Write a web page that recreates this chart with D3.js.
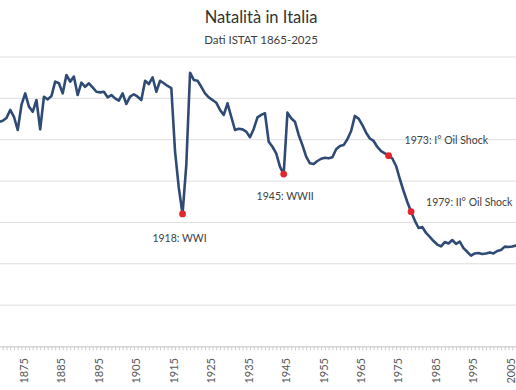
<!DOCTYPE html>
<html>
<head>
<meta charset="utf-8">
<script src="https://cdn.jsdelivr.net/npm/d3@7"></script>
<style>
  html, body { margin: 0; padding: 0; background: #fff; }
  svg { display: block; }
</style>
</head>
<body>
<svg id="chart" width="516" height="390"></svg>
<script>
// Data (births, thousands; approximate)
const years = [
  1869,1870,1871,1872,1873,1874,1875,1876,1877,1878,1879,
  1880,1881,1882,1883,1884,1885,1886,1887,1888,1889,
  1890,1891,1892,1893,1894,1895,1896,1897,1898,1899,
  1900,1901,1902,1903,1904,1905,1906,1907,1908,1909,
  1910,1911,1912,1913,1914,1915,1916,1917,1918,1919,
  1920,1921,1922,1923,1924,1925,1926,1927,1928,1929,
  1930,1931,1932,1933,1934,1935,1936,1937,1938,1939,
  1940,1941,1942,1943,1944,1945,1946,1947,1948,1949,
  1950,1951,1952,1953,1954,1955,1956,1957,1958,1959,
  1960,1961,1962,1963,1964,1965,1966,1967,1968,1969,
  1970,1971,1972,1973,1974,1975,1976,1977,1978,1979,
  1980,1981,1982,1983,1984,1985,1986,1987,1988,1989,
  1990,1991,1992,1993,1994,1995,1996,1997,1998,1999,
  2000,2001,2002,2003,2004,2005,2006,2007,2008
];
const births = [
  1086,1092,1105,1144,1111,1047,1168,1224,1160,1135,1192,
  1050,1208,1195,1211,1281,1273,1224,1313,1281,1305,
  1216,1276,1256,1273,1253,1232,1229,1232,1205,1216,
  1200,1189,1224,1173,1208,1220,1208,1192,1285,1269,
  1302,1232,1285,1273,1260,1250,942,767,641,878,
  1324,1289,1285,1256,1224,1205,1192,1179,1144,1120,
  1176,1111,1047,1053,1050,1039,1012,1052,1108,1120,
  1128,990,966,934,870,834,1131,1104,1087,1023,
  974,918,886,883,897,908,913,910,915,954,
  970,974,1002,1042,1115,1102,1071,1034,1006,994,
  965,945,934,923,909,873,810,752,699,652,
  609,573,578,549,530,510,493,484,505,498,
  515,496,507,476,458,439,450,452,447,450,
  455,450,462,467,483,481,484,488,491
];
const tickYears = [1875,1885,1895,1905,1915,1925,1935,1945,1955,1965,1975,1985,1995,2005];
const yTicks = [0,200,400,600,800,1000,1200,1400];
const eventYears = [1918,1945,1973,1979];
const eventLabels = ["1918: WWI","1945: WWII","1973: I° Oil Shock","1979: II° Oil Shock"];
const titleText = "Natalità in Italia";
const subtitleText = "Dati ISTAT 1865-2025";

const data = years.map((y, i) => ({year: y, value: births[i]}));
const byYear = new Map(data.map(d => [d.year, d.value]));

const svg = d3.select("#chart");
const W = 516, H = 390;
svg.append("rect").attr("width", W).attr("height", H).attr("fill", "#fff");

const x = d3.scaleLinear().domain([1865, 2025]).range([-16, 583.4]);
const y = d3.scaleLinear().domain([0, 1400]).range([346.5, 57]);

const font = "Lato, 'Open Sans', sans-serif";

// gridlines
svg.append("g").selectAll("line").data(yTicks).join("line")
  .attr("x1", 0).attr("x2", W)
  .attr("y1", d => y(d)).attr("y2", d => y(d))
  .attr("stroke", "#dedede").attr("stroke-width", 1);

// x axis with yearly minor ticks
const allYears = d3.range(1865, 2026);
const xAxisG = svg.append("g").attr("transform", `translate(0,${y(0)})`);
xAxisG.call(d3.axisBottom(x).tickValues(allYears).tickSize(4).tickFormat(""))
  .call(g => g.select(".domain").attr("stroke", "#d0d0d0"))
  .call(g => g.selectAll(".tick line").attr("stroke", "#cfcfcf"));

// year labels
svg.append("g").selectAll("text").data(tickYears).join("text")
  .attr("transform", d => `translate(${x(d) + 2.5},358) rotate(-90)`)
  .attr("text-anchor", "end")
  .attr("dy", "0.35em")
  .attr("font-family", font)
  .attr("font-size", 11)
  .attr("fill", "#595959")
  .text(d => d);

// line
const line = d3.line().x(d => x(d.year)).y(d => y(d.value));
svg.append("path").datum(data)
  .attr("d", line)
  .attr("fill", "none")
  .attr("stroke", "#2f4b75")
  .attr("stroke-width", 2.6)
  .attr("stroke-linejoin", "round");

// event markers
const events = eventYears.map((yr, i) => ({year: yr, value: byYear.get(yr), label: eventLabels[i]}));
svg.append("g").selectAll("circle").data(events).join("circle")
  .attr("cx", d => x(d.year)).attr("cy", d => y(d.value))
  .attr("r", 3.4).attr("fill", "#e3262b");

const labelOffsets = {
  1918: {dx: -3, dy: 24, anchor: "middle"},
  1945: {dx: 1.5, dy: 22, anchor: "middle"},
  1973: {dx: 16, dy: -15.5, anchor: "start"},
  1979: {dx: 15, dy: -9, anchor: "start"}
};
svg.append("g").selectAll("text").data(events).join("text")
  .attr("x", d => x(d.year) + labelOffsets[d.year].dx)
  .attr("y", d => y(d.value) + labelOffsets[d.year].dy)
  .attr("dy", "0.35em")
  .attr("text-anchor", d => labelOffsets[d.year].anchor)
  .attr("font-family", font)
  .attr("font-size", 10.5)
  .attr("fill", "#404040")
  .text(d => d.label);

// titles
svg.append("text").attr("x", 261).attr("y", 17).attr("dy", "0.35em")
  .attr("text-anchor", "middle").attr("font-family", font)
  .attr("font-size", 16.5).attr("fill", "#333").text(titleText);
svg.append("text").attr("x", 261).attr("y", 39.5).attr("dy", "0.35em")
  .attr("text-anchor", "middle").attr("font-family", font)
  .attr("font-size", 11.5).attr("fill", "#404040").text(subtitleText);
</script>
</body>
</html>
